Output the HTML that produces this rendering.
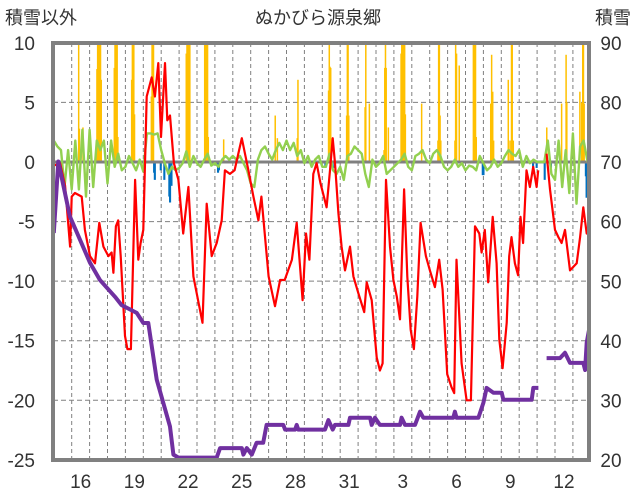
<!DOCTYPE html>
<html><head><meta charset="utf-8">
<style>
html,body{margin:0;padding:0;background:#fff;}
svg{display:block;font-family:"Liberation Sans","Noto Sans CJK JP",sans-serif;}
</style></head>
<body>
<svg id="chart" width="636" height="501" viewBox="0 0 636 501">
  <rect x="0" y="0" width="636" height="501" fill="#fff"/>
  <g id="grid"></g>
  <g id="bars"></g>
  <g id="lines"></g>
  <rect x="53" y="43" width="536" height="417" fill="none" stroke="#808080" stroke-width="4"/>
  <g id="axes" font-size="19" fill="#333"></g>
  <text x="5" y="24" font-size="18" fill="#333">積雪以外</text>
  <text x="318" y="24" font-size="18" fill="#333" text-anchor="middle">ぬかびら源泉郷</text>
  <text x="631" y="24" font-size="18" fill="#333" text-anchor="end">積雪</text>
</svg>
<script>
const leftTicks = [10,5,0,-5,-10,-15,-20,-25];
const rightTicks = [90,80,70,60,50,40,30,20];
const dayLabels = ["16","19","22","25","28","31","3","6","9","12"];
const dayLabelIdx = [1,4,7,10,13,16,19,22,25,28];

const snowT = [1.39,1.43,1.63,2.41,2.45,2.49,2.53,2.57,2.61,2.65,3.38,3.42,3.46,3.50,3.54,3.58,4.35,4.39,4.43,4.47,4.51,5.45,5.49,5.53,5.57,7.40,7.44,7.48,7.52,7.56,7.60,8.43,8.47,8.51,8.55,8.59,8.63,9.49,12.37,12.49,13.60,13.64,15.35,15.39,15.43,15.47,16.36,16.40,16.44,16.48,17.39,17.43,17.63,18.45,18.49,18.53,18.57,18.69,19.40,19.44,19.48,19.52,19.56,19.60,19.64,20.55,21.46,21.50,21.54,21.58,21.62,22.41,22.45,22.50,22.65,23.44,23.48,23.52,23.56,23.60,24.41,24.46,24.52,24.57,25.39,25.49,25.57,25.61,25.67,27.54,28.37,28.62,28.66,29.39,29.49,29.55,29.59,29.63];
const snowV = [12,2.8,2.9,7.8,12,12,12,12,12,6.9,7.9,12,12,12,12,2.1,6.9,12,12,12,4,5.5,12,12,12,9.1,12,12,12,12,12,12,12,12,12,12,2.1,1.9,3.9,2.0,2.0,6.9,6.0,12,8,7.9,3.9,12,12,3.9,4.6,12,4.9,1.0,7.9,12,7.9,2.9,9.1,12,12,12,12,12,4,4.9,1.8,12,12,3.9,1.8,1.8,12,9.1,8.1,12,12,12,12,2.1,4.9,9.0,5.9,1.8,6.9,1.8,12,12,1.8,2.9,4.9,9.0,5.0,5.9,5.0,12,12,4.9];
const rainT = [5.63,5.67,6.0,6.2,6.48,6.52,6.6,9.2,9.25,15.2,15.7,23.99,24.03,26.8,27.0,27.45,27.8,29.75,29.79];
const rainV = [-0.9,-1.5,-0.7,-1.5,-2.9,-3.4,-2.0,-0.9,-0.7,-0.5,-0.5,-1.1,-1.1,-0.5,-0.5,-1.5,-0.5,-1.2,-3.0];

const tempT = [0,0.35,0.63,0.91,1.0,1.18,1.56,1.74,2.02,2.3,2.54,2.77,3.05,3.23,3.33,3.47,3.6,3.74,3.98,4.11,4.31,4.54,4.72,4.85,5.0,5.19,5.47,5.65,5.84,5.99,6.21,6.34,6.49,6.71,6.96,7.23,7.52,7.8,8.31,8.54,8.82,9.1,9.38,9.56,9.84,10.1,10.5,10.87,11.15,11.43,11.6,12.0,12.36,12.64,12.9,13.3,13.57,13.9,14.09,14.28,14.5,14.68,14.9,15.24,15.43,15.58,15.71,15.9,16.08,16.27,16.55,16.74,17.01,17.34,17.48,17.76,18.04,18.22,18.37,18.56,18.78,18.97,19.16,19.34,19.57,19.75,19.94,20.12,20.31,20.49,20.79,21.01,21.29,21.53,21.72,21.98,22.22,22.37,22.5,22.78,23.06,23.3,23.53,23.77,23.9,24.08,24.27,24.52,24.74,24.89,25.07,25.3,25.44,25.57,25.76,25.94,26.07,26.22,26.41,26.6,26.78,26.97,27.06,27.3,27.53,27.72,28.0,28.19,28.37,28.56,28.84,29.21,29.4,29.58,29.77,29.92,30.05];
const tempV = [-0.3,-0.1,-2.0,-7.1,-2.9,-2.6,-2.9,-5.7,-7.9,-8.5,-5.1,-7.1,-7.9,-7.6,-9.3,-5.4,-4.9,-7.9,-14.6,-15.7,-15.7,-1.5,-8.2,-6.8,-5.7,5.5,7.1,5.5,8.3,2.1,8.3,3.5,3.9,-0.1,-1.5,-6.0,-2.1,-9.6,-13.5,-3.5,-7.9,-6.8,-4.9,-0.7,-1.0,-0.7,2.0,-0.7,-2.9,-4.9,-2.9,-9.6,-12.1,-9.9,-9.9,-8.2,-5.1,-11.6,-6.0,-8.2,-1.0,-0.1,-1.8,-3.8,-0.7,2.0,-0.1,-4.3,-7.1,-9.1,-7.1,-9.6,-11.0,-12.6,-10.1,-11.6,-16.4,-17.5,-16.9,-1.5,-7.1,-9.9,-11.3,-13.2,-2.3,-9.6,-14.1,-15.7,-11.3,-5.1,-7.9,-9.1,-10.5,-8.2,-10.7,-17.8,-18.9,-19.4,-8.2,-16.9,-20.0,-20.0,-5.4,-6.0,-7.6,-5.7,-10.1,-4.6,-8.5,-14.9,-17.3,-13.5,-7.9,-6.3,-8.5,-9.5,-4.6,-6.8,-0.7,-2.1,-0.4,-2.1,-0.7,null,0.7,-2.3,-5.7,-6.3,-6.8,-5.7,-9.1,-8.5,-6.3,-3.8,-6.0,-4.9,-7.1];

const depthT = [0,0.25,0.9,2.02,2.58,3.42,3.79,4.63,5.0,5.28,5.75,6.49,6.68,6.96,9.1,9.29,10.5,10.59,10.78,11.06,11.33,11.7,11.89,12.82,12.92,13.48,13.57,13.66,15.15,15.34,15.58,15.71,16.46,16.55,17.67,17.76,17.94,18.22,19.34,19.43,19.62,20.18,20.46,20.64,22.32,22.41,22.5,23.72,24.0,24.18,24.56,25.02,25.12,26.7,26.79,27.07,27.3,27.53,28.28,28.56,28.84,29.58,29.68,29.77,29.92];
const depthV = [58.1,70.1,60.9,53.1,50.2,47.4,46,44.7,43,43,33.5,25.6,20.9,20.4,20.4,22,22,20.9,22,20.9,22.9,22.9,25.9,25.9,25.1,25.1,25.9,25.1,25.1,26.7,25.1,25.9,25.9,27.1,27.1,25.9,27.1,25.9,25.9,27.1,25.9,25.9,28.1,27.1,27.1,28.1,27.1,27.1,29.6,32.1,31.3,31.3,30.1,30.1,32.1,32.1,null,37.1,37.1,38,36.3,36.3,35.1,39.7,42.2];

const greenStep = 0.2;
const greenV = [1.8,1.3,1.0,-2.1,1.0,-2.3,
1.8,-2.3,2.7,-2.9,2.7,-2.1,1.8,1.0,1.8,-1.8,
1.8,-0.4,0.7,-0.7,-0.4,0.5,-0.1,-0.7,0.2,-0.8,
2.4,2.4,2.3,2.4,1.0,-0.1,-1.0,-0.4,-0.7,-0.5,
-0.1,0.9,-0.4,0.5,-0.1,-0.4,0.2,0.7,-0.3,-0.1,
-0.4,0.2,0.5,0.2,0.5,0.2,0.5,-0.1,-0.7,-1.8,
-2.1,0.2,1.0,1.3,0.7,0.2,1.0,1.6,1.0,1.8,
1.0,1.6,0.5,1.0,-0.1,0.5,-0.4,0.2,0.5,-0.4,
-0.4,0.7,-0.7,-1.0,-0.4,-1.5,0.5,0.7,1.3,1.0,
0.7,-1.0,-2.1,0.2,-0.4,-0.1,0.5,-1.0,-0.7,-0.4,
-0.1,0.2,0.7,-0.4,-0.7,0.5,0.7,1.0,0.2,-0.1,
0.7,1.0,0.5,-0.4,-0.7,-0.4,0.2,-0.4,-0.1,-0.7,
-0.3,-0.4,-0.7,0.5,-0.1,-0.7,-0.4,0.2,-0.4,-0.1,
0.5,1.0,0.7,0.5,1.0,-0.4,0.5,-0.1,0.2,0.0,
0.0,0.0,1.8,-1.0,-1.5,1.8,-2.1,1.0,-2.6,2.4,
-3.5,1.3,1.8,0.2,-0.7];

const NS = "http://www.w3.org/2000/svg";
const X0 = 53.8, DX = 17.9;
const PL = 53, PR = 589, PT = 43, PB = 460;
function xS(t){ return X0 + t*DX; }
function yL(v){ return 162 - v*(PB-PT)/35; }
function yR(v){ return PT + (90 - v)*(PB-PT)/70; }
function mk(tag, attrs, parent){
  const e = document.createElementNS(NS, tag);
  for (const k in attrs) e.setAttribute(k, attrs[k]);
  parent.appendChild(e);
  return e;
}
const svg = document.getElementById('chart');
const defs = mk('defs', {}, svg);
const cp = mk('clipPath', {id:'plotclip'}, defs);
mk('rect', {x:PL, y:PT, width:PR-PL, height:PB-PT}, cp);

const grid = document.getElementById('grid');
for (let d = 1; d < 30; d++) {
  const l = mk('line', {x1:xS(d), x2:xS(d), y1:PT, y2:PB, stroke:'#808080', 'stroke-width':1, 'stroke-dasharray':'4,3'}, grid);
  
  
}
leftTicks.forEach(v => {
  if (v === 10 || v === -25) return;
  const l = mk('line', {x1:PL, x2:PR, y1:yL(v), y2:yL(v), stroke:'#808080', 'stroke-width':1, 'stroke-dasharray':'5,3'}, grid);
  
  
});

const bars = document.getElementById('bars');
bars.setAttribute('clip-path', 'url(#plotclip)');
const bw = 1.5;
snowT.forEach((t, i) => {
  const v = snowV[i];
  const r = mk('rect', {x:xS(t)-bw/2, y:yL(v), width:bw, height:yL(0)-yL(v), fill:'#FFC000'}, bars);
  
  
});
rainT.forEach((t, i) => {
  const v = rainV[i];
  const r = mk('rect', {x:xS(t)-bw, y:yL(0), width:bw*1.4, height:yL(v)-yL(0), fill:'#0070C0'}, bars);
  
  
});

const lines = document.getElementById('lines');
lines.setAttribute('clip-path', 'url(#plotclip)');
const zl = mk('line', {x1:PL, x2:PR, y1:yL(0), y2:yL(0), stroke:'#808080', 'stroke-width':3}, lines);



function pathFrom(ts, vs, yf){
  let d = '', pen = false;
  ts.forEach((t, i) => {
    const v = vs[i];
    if (v === null) { pen = false; return; }
    d += (pen ? 'L' : 'M') + xS(t).toFixed(1) + ',' + yf(v).toFixed(1);
    pen = true;
  });
  return d;
}
const gT = greenV.map((_, i) => i*greenStep);
const gp = mk('path', {d:pathFrom(gT, greenV, yL), fill:'none', stroke:'#92D050', 'stroke-width':2.4, 'stroke-linejoin':'round'}, lines);


const rp = mk('path', {d:pathFrom(tempT, tempV, yL), fill:'none', stroke:'#FF0000', 'stroke-width':2.2, 'stroke-linejoin':'round'}, lines);


const pp = mk('path', {d:pathFrom(depthT, depthV, yR), fill:'none', stroke:'#7030A0', 'stroke-width':4, 'stroke-linejoin':'round'}, lines);



const axes = document.getElementById('axes');
leftTicks.forEach(v => {
  const t = mk('text', {x:35, y:yL(v)+7, 'text-anchor':'end'}, axes);
  t.textContent = v;
  
  
});
rightTicks.forEach(v => {
  const t = mk('text', {x:611, y:yR(v)+7, 'text-anchor':'middle'}, axes);
  t.textContent = v;
  
  
});
dayLabels.forEach((s, i) => {
  const t = mk('text', {x:xS(dayLabelIdx[i]+0.5), y:488, 'text-anchor':'middle'}, axes);
  t.textContent = s;
  
  
});
</script>
</body></html>
